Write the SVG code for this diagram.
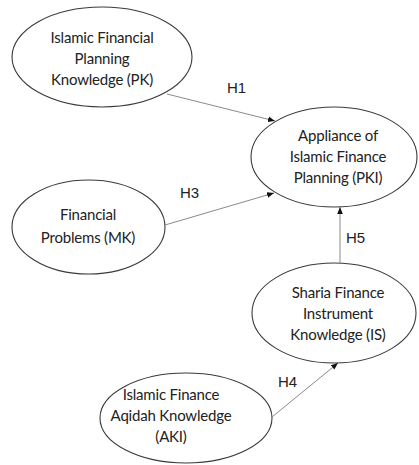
<svg xmlns="http://www.w3.org/2000/svg" width="419" height="465" viewBox="0 0 419 465">
<defs>
<style>
.node ellipse{fill:#fff;stroke:#3a3a3a;stroke-width:1.1}
.node text{font-family:Lato,"Liberation Sans",sans-serif;font-size:15px;letter-spacing:-0.2px;fill:#222;text-anchor:middle}
.lbl{font-family:"Liberation Sans",Arial,sans-serif;font-size:15px;fill:#222}
.conn line{stroke:#8a8a8a;stroke-width:1;marker-end:url(#ah)}
</style>
<marker id="ah" viewBox="0 0 10 10" refX="10" refY="5" markerWidth="7" markerHeight="7" orient="auto" markerUnits="userSpaceOnUse">
<path d="M0,1 L10,5 L0,9 z" fill="#111"/>
</marker>
</defs>
<rect width="419" height="465" fill="#fff"/>
<g id="PK" class="node">
<ellipse cx="102" cy="57" rx="90" ry="50"/>
<text x="102" y="43">Islamic Financial</text>
<text x="102" y="64">Planning</text>
<text x="102" y="85">Knowledge (PK)</text>
</g>
<g id="PKI" class="node">
<ellipse cx="334" cy="157" rx="83" ry="50"/>
<text x="338" y="141">Appliance of</text>
<text x="338" y="162">Islamic Finance</text>
<text x="338" y="183">Planning (PKI)</text>
</g>
<g id="MK" class="node">
<ellipse cx="88.5" cy="227" rx="76.5" ry="47"/>
<text x="88" y="220">Financial</text>
<text x="88" y="243">Problems (MK)</text>
</g>
<g id="IS" class="node">
<ellipse cx="334" cy="313" rx="82" ry="50"/>
<text x="338" y="298">Sharia Finance</text>
<text x="338" y="319">Instrument</text>
<text x="338" y="340">Knowledge (IS)</text>
</g>
<g id="AKI" class="node">
<ellipse cx="186" cy="418" rx="86" ry="45"/>
<text x="171" y="400">Islamic Finance</text>
<text x="171" y="421">Aqidah Knowledge</text>
<text x="171" y="442">(AKI)</text>
</g>
<g id="connectors" class="conn">
<line x1="167" y1="94" x2="275" y2="121"/>
<line x1="165" y1="225" x2="274" y2="193"/>
<line x1="340" y1="263" x2="340" y2="207"/>
<line x1="272" y1="417" x2="338" y2="363"/>
</g>
<g id="labels">
<text class="lbl" x="227" y="93">H1</text>
<text class="lbl" x="180" y="198">H3</text>
<text class="lbl" x="346" y="243">H5</text>
<text class="lbl" x="278" y="387">H4</text>
</g>
</svg>
